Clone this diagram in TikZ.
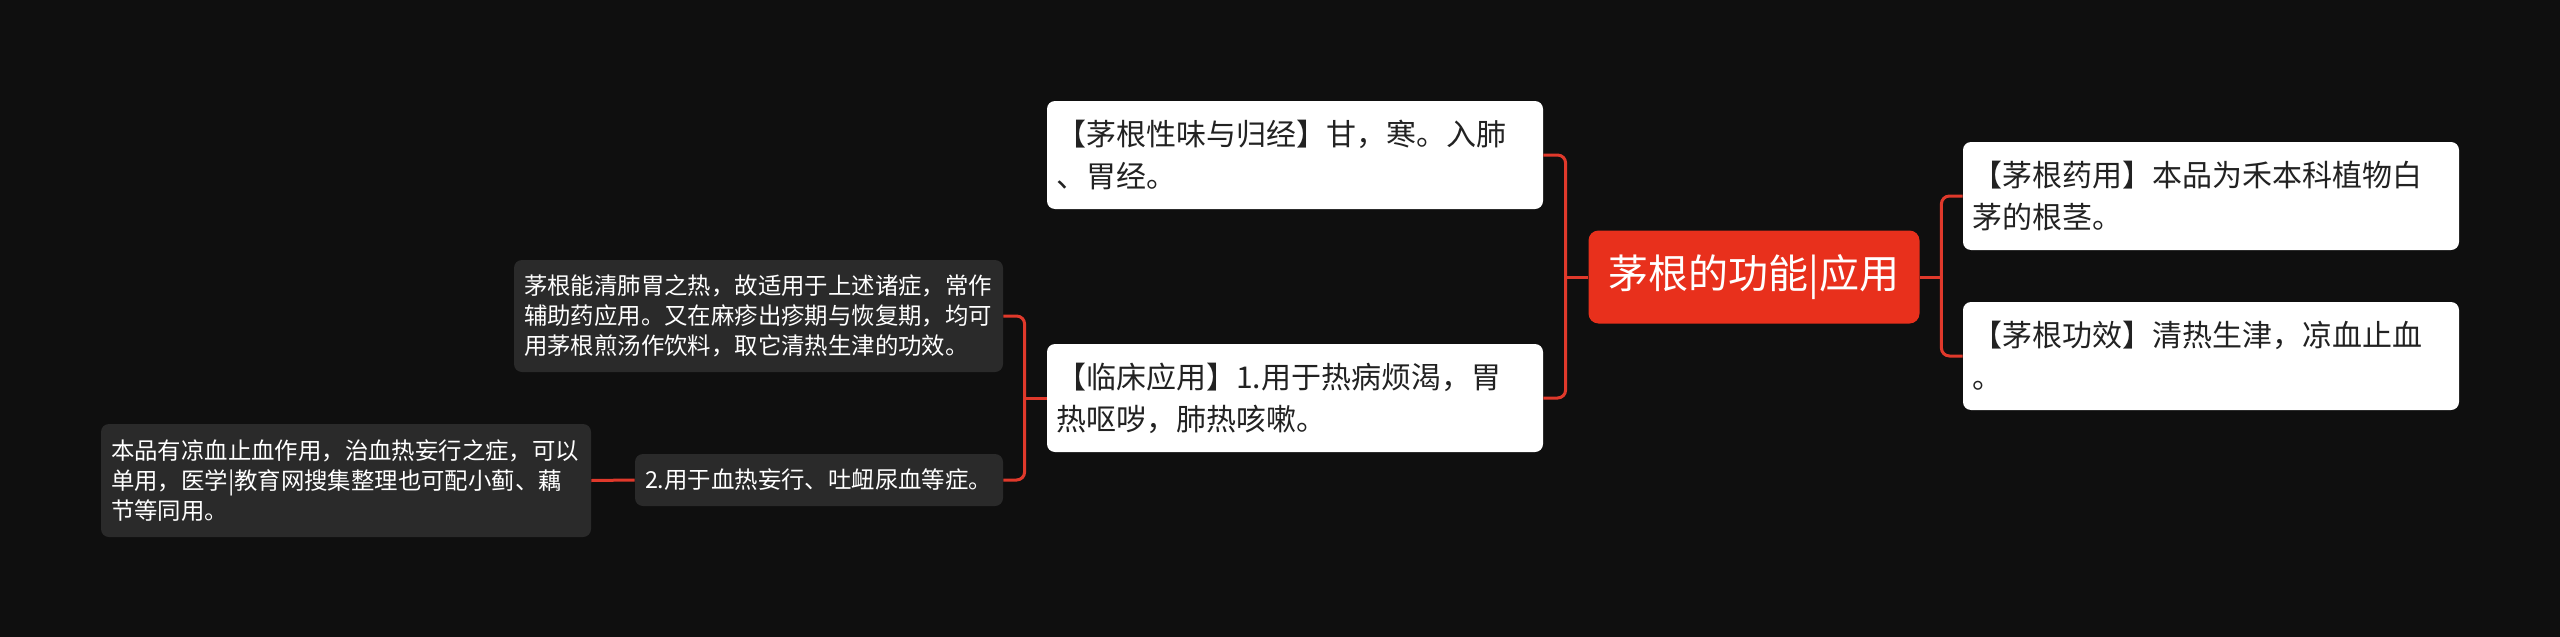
\documentclass[tikz,border=0pt]{standalone}
\usepackage{fontspec}
\setmainfont{Noto Sans CJK SC}
\usepackage{tikz}
\usetikzlibrary{positioning}

\definecolor{bgc}{HTML}{0F0F0F}
\definecolor{rootred}{HTML}{E8301C}
\definecolor{linkred}{HTML}{E0392B}
\definecolor{dk}{HTML}{2A2A2A}
\definecolor{txt}{HTML}{222222}

\begin{document}
\begin{tikzpicture}[x=0.5pt, y=-0.5pt,
	root/.style={fill=rootred, text=white, rounded corners=5pt, inner sep=0pt, minimum width=165.5pt, minimum height=46.5pt, font=\fontsize{20}{24}\selectfont},
	wbox/.style={fill=white, text=txt, rounded corners=4pt, inner xsep=4.5pt, inner ysep=0pt, minimum height=54pt, text width=239pt, align=left, font=\fontsize{15}{21}\selectfont},
	dbox/.style={fill=dk, text=white, rounded corners=4pt, inner xsep=5pt, inner ysep=0pt, align=left, font=\fontsize{11.7}{15}\selectfont},
	link/.style={draw=linkred, line width=1.5pt, rounded corners=4pt}]
				\fill[bgc] (0,0) rectangle (2560,637);
				\useasboundingbox (0,0) rectangle (2560,637);
				
				\node[root] (0) at (1754,277) {茅根的功能|应用};
				\node[wbox] (1) at (1295,155) {【茅根性味与归经】甘，寒。入肺\\、胃经。};
				\node[wbox] (2) at (1295,398) {【临床应用】1.用于热病烦渴，胃\\热呕哕，肺热咳嗽。};
				\node[wbox] (3) at (2211,196) {【茅根药用】本品为禾本科植物白\\茅的根茎。};
				\node[wbox] (4) at (2211,356) {【茅根功效】清热生津，凉血止血\\。};
				\node[dbox, text width=234.5pt, minimum height=56pt] (5) at (758.5,316) {茅根能清肺胃之热，故适用于上述诸症，常作\\辅助药应用。又在麻疹出疹期与恢复期，均可\\用茅根煎汤作饮料，取它清热生津的功效。};
				\node[dbox, text width=174pt, minimum height=26pt] (6) at (819,480) {2.用于血热妄行、吐衄尿血等症。};
				\node[dbox, text width=235pt, minimum height=56.5pt] (7) at (346,480.5) {本品有凉血止血作用，治血热妄行之症，可以\\单用，医学|教育网搜集整理也可配小蓟、藕\\节等同用。};
				
				\path (0.west) ++(-22.5,0) coordinate (j0);
				\path (0.east) ++(21.5,0) coordinate (j1);
				\path (2.west) ++(-22,0) coordinate (j2);
				
				\draw[link, rounded corners=0pt] (0.west) -- (j0);
				\draw[link]  (j0) |- (1.east);
				\draw[link]  (j0) |- (2.east);
				\draw[link, rounded corners=0pt] (0.east) -- (j1);
				\draw[link]  (j1) |- (3.west);
				\draw[link]  (j1) |- (4.west);
				\draw[link, rounded corners=0pt] (2.west) -- (j2);
				\draw[link]  (j2) |- (5.east);
				\draw[link]  (j2) |- (6.east);
				\draw[link]  (6.west) -- (7.east);
			\end{tikzpicture}
\end{document}
